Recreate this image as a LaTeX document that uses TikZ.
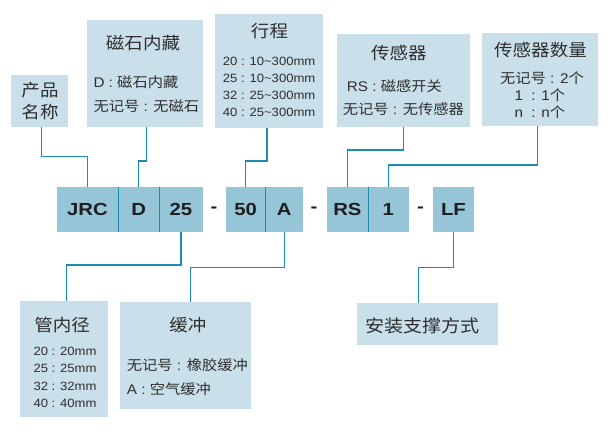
\documentclass[tikz,border=0pt]{standalone}
\usepackage{fontspec}
\setmainfont{Liberation Sans}[FakeStretch=1.09]
\newfontfamily\cjk{Noto Sans CJK SC}[FakeStretch=1.09]
\newfontfamily\codefont{Liberation Sans}[FakeStretch=1.16]
\usetikzlibrary{calc}
\definecolor{lboxc}{HTML}{C9E0EB}
\definecolor{cboxc}{HTML}{96C5D8}
\definecolor{lnc}{HTML}{1B8DB3}
\definecolor{txtc}{HTML}{2E2E2E}
\definecolor{codetxt}{HTML}{1E1E1E}
\newcommand\zh[1]{{\cjk #1}}
\tikzset{
  infobox/.style={fill=lboxc, draw=none, anchor=north west, inner sep=0pt, outer sep=0pt},
  codebox/.style={fill=cboxc, draw=none, anchor=north west, inner sep=0pt, outer sep=0pt,
    minimum height=44.7, text=codetxt, font=\codefont\bfseries\fontsize{17.5}{18}\selectfont},
  dashmark/.style={inner sep=0pt, text=codetxt, font=\codefont\bfseries\fontsize{17.5}{18}\selectfont},
  ttl/.style={inner sep=0pt, text=txtc, font=\cjk\fontsize{17}{18}\selectfont},
  dline/.style={inner sep=0pt, text=txtc, anchor=west, font=\fontsize{14}{15}\selectfont},
  nline/.style={inner sep=0pt, text=txtc, anchor=west, font=\fontsize{12}{13}\selectfont},
  conn/.style={draw=lnc, line width=1.2pt},
  divider/.style={draw=lnc, line width=1pt},
}
\begin{document}
\begin{tikzpicture}[x=1pt,y=-1pt]
\useasboundingbox (0,0) rectangle (611,440);

% ---------- info boxes ----------
\node[infobox, minimum width=57,    minimum height=52]    (pm) at (11,75) {};
\node[infobox, minimum width=116,   minimum height=107]   (cs) at (87,20) {};
\node[infobox, minimum width=107.7, minimum height=114]   (xc) at (215,14) {};
\node[infobox, minimum width=133.3, minimum height=92.7]  (cg) at (336.7,34) {};
\node[infobox, minimum width=115.7, minimum height=92.7]  (sl) at (482,33) {};
\node[infobox, minimum width=87.7,  minimum height=115.7] (nj) at (20,301) {};
\node[infobox, minimum width=131,   minimum height=107]   (hc) at (120,302) {};
\node[infobox, minimum width=140.4, minimum height=41.7]  (az) at (357.3,303) {};

% ---------- code boxes ----------
\node[codebox, minimum width=61.8] (jrc) at (56.5,187) {JRC};
\node[codebox, minimum width=41]   (d)   at (118.3,187) {D};
\node[codebox, minimum width=43.3] (n25) at (159.3,187) {25};
\node[codebox, minimum width=39.3] (n50) at (225.9,187) {50};
\node[codebox, minimum width=38.1] (a)   at (265.2,187) {A};
\node[codebox, minimum width=41.3] (rs)  at (326.7,187) {RS};
\node[codebox, minimum width=40.5] (one) at (368,187) {1};
\node[codebox, minimum width=41.7] (lf)  at (432.6,187) {LF};
\draw[divider] (jrc.north east) -- (jrc.south east);
\draw[divider] (d.north east) -- (d.south east);
\draw[divider] (n50.north east) -- (n50.south east);
\draw[divider] (rs.north east) -- (rs.south east);
\node[dashmark] (dash1) at (214,209.5) {-};
\node[dashmark] (dash2) at (314,209.5) {-};
\node[dashmark] (dash3) at (420.6,209.5) {-};

% ---------- connectors ----------
\coordinate (jA) at (0,156.7);
\coordinate (jB) at (0,161);
\coordinate (jC) at (0,150);
\coordinate (jD) at (0,165);
\coordinate (jE) at (0,265);
\coordinate (jF) at (0,267.7);
\coordinate (pmOut) at ([xshift=1.8]pm.south);
\coordinate (csOut) at ([xshift=1.3]cs.south);
\coordinate (xcOut) at ([xshift=-1.85]xc.south);
\coordinate (cgOut) at ([xshift=0.35]cg.south);
\coordinate (slOut) at ([xshift=-2.5]sl.south);
\coordinate (njIn)  at ([xshift=2.85]nj.north);
\coordinate (hcIn)  at ([xshift=5.2]hc.north);
\coordinate (azIn)  at ([xshift=-8.8]az.north);
\draw[conn] (pmOut) |- (jrc.north |- jA) -- (jrc.north);
\draw[conn] (csOut) |- (d.north |- jB) -- (d.north);
\draw[conn] (xcOut) |- (n50.north |- jB) -- (n50.north);
\draw[conn] (cgOut) |- (rs.north |- jC) -- (rs.north);
\draw[conn] (slOut) |- (one.north |- jD) -- (one.north);
\draw[conn] (n25.south) |- (njIn |- jE) -- (njIn);
\draw[conn] (a.south) |- (hcIn |- jF) -- (hcIn);
\draw[conn] (lf.south) |- (azIn |- jF) -- (azIn);

% ---------- texts ----------
\node[ttl] (pmA) at (40,90) {产品};
\node[ttl] (pmB) at (40,111.7) {名称};

\node[ttl] (csT) at (143,43.3) {磁石内藏};
\node[dline] (cs1) at (93.3,81.7) {D : \zh{磁石内藏}};
\node[dline] (cs2) at (93.3,106) {\zh{无记号} : \zh{无磁石}};

\node[ttl] (xcT) at (269.5,31) {行程};
\node[nline] (xc1) at (222.7,61)   {20 : 10\textasciitilde300mm};
\node[nline] (xc2) at (222.7,78.3) {25 : 10\textasciitilde300mm};
\node[nline] (xc3) at (222.7,95.7) {32 : 25\textasciitilde300mm};
\node[nline] (xc4) at (222.7,112.3) {40 : 25\textasciitilde300mm};

\node[ttl] (cgT) at (398.8,53.3) {传感器};
\node[dline] (cg1) at (346.7,86) {RS : \zh{磁感开关}};
\node[dline] (cg2) at (342.7,109.3) {\zh{无记号} : \zh{无传感器}};

\node[ttl] (slT) at (540.5,50) {传感器数量};
\node[dline] (sl1) at (500,78.3) {\zh{无记号} : 2\zh{个}};
\node[dline] (sl2) at (514.3,95) {1 \ : 1\zh{个}};
\node[dline] (sl3) at (514.3,111.7) {n \ : n\zh{个}};

\node[ttl] (njT) at (62.2,325) {管内径};
\node[nline] (nj1) at (33.3,351.7) {20 : 20mm};
\node[nline] (nj2) at (33.3,368.3) {25 : 25mm};
\node[nline] (nj3) at (33.3,386)   {32 : 32mm};
\node[nline] (nj4) at (33.3,403.3) {40 : 40mm};

\node[ttl] (hcT) at (187.8,325) {缓冲};
\node[dline] (hc1) at (126.7,365)   {\zh{无记号} : \zh{橡胶缓冲}};
\node[dline] (hc2) at (126.7,389.3) {A : \zh{空气缓冲}};

\node[ttl, anchor=west, font=\cjk\fontsize{17.5}{18}\selectfont] (azT) at (365,326) {安装支撑方式};
\end{tikzpicture}
\end{document}
